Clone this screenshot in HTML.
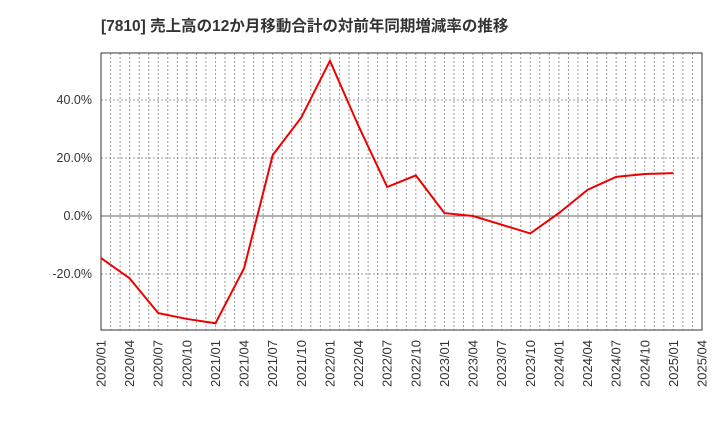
<!DOCTYPE html>
<html><head><meta charset="utf-8"><style>body{margin:0;background:#fff}svg{font-family:"Liberation Sans","Noto Sans CJK JP",sans-serif}</style></head>
<body>
<svg id="c" width="720" height="440">
<text x="101" y="31" font-size="15.5" font-weight="bold" fill="#333">[7810]  売上高の12か月移動合計の対前年同期増減率の推移</text>
</svg>
<script>
const categories=["2020/01","2020/04","2020/07","2020/10","2021/01","2021/04","2021/07","2021/10","2022/01","2022/04","2022/07","2022/10","2023/01","2023/04","2023/07","2023/10","2024/01","2024/04","2024/07","2024/10","2025/01"];
const values=[-14.5,-21.5,-33.5,-35.5,-37,-18,21,34,53.5,31,10,14,1,0,-3,-6,1,9,13.5,14.5,14.8];
const xTickLabels=["2020/01","2020/04","2020/07","2020/10","2021/01","2021/04","2021/07","2021/10","2022/01","2022/04","2022/07","2022/10","2023/01","2023/04","2023/07","2023/10","2024/01","2024/04","2024/07","2024/10","2025/01","2025/04"];
const yTicks=[-20,0,20,40];
const NS="http://www.w3.org/2000/svg",svg=document.getElementById('c');
const L=101,R=702,T=53,B=330;
const x=i=>L+i*(R-L)/21;
const y=v=>216-v*2.9;
function mk(t,a){const e=document.createElementNS(NS,t);for(const k in a)e.setAttribute(k,a[k]);svg.appendChild(e);return e;}
for(let m=1;m<63;m++){const l=mk('line',{x1:L+m*(R-L)/63,x2:L+m*(R-L)/63,y1:T,y2:B,stroke:'#999','stroke-dasharray':'2,2','stroke-width':1});

}
yTicks.forEach(v=>{const l=mk('line',{x1:L,x2:R,y1:y(v),y2:y(v),stroke:v===0?'#666':'#999','stroke-dasharray':v===0?'':'2,2'});


const t=mk('text',{x:L-9,y:y(v)+4,'text-anchor':'end','font-size':12.5,fill:'#333'});t.textContent=v.toFixed(1)+'%';

});
xTickLabels.forEach((s,i)=>{const t=mk('text',{transform:`translate(${x(i)+4.5},${B+10}) rotate(-90)`,'text-anchor':'end','font-size':13,fill:'#333'});t.textContent=s;

});
const f=mk('rect',{x:L,y:T,width:R-L,height:B-T,fill:'none',stroke:'#333'});


const p=mk('polyline',{points:values.map((v,i)=>x(i)+','+y(v)).join(' '),fill:'none',stroke:'#e00','stroke-width':2});


</script>
</body></html>
